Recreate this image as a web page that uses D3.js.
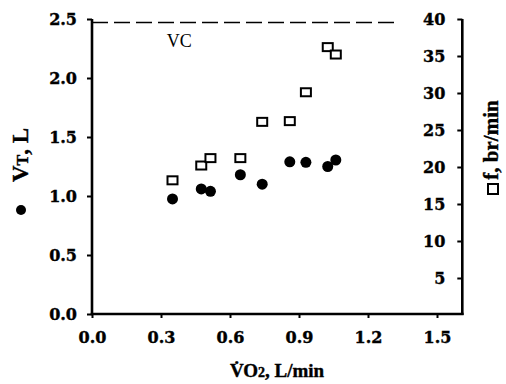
<!DOCTYPE html>
<html>
<head>
<meta charset="utf-8">
<script src="https://cdn.jsdelivr.net/npm/d3@7"></script>
<style>
html,body{margin:0;padding:0;background:#fff;}
svg{display:block;}
</style>
</head>
<body>
<svg id="chart" width="506" height="384"></svg>
<script>
// ---- data ----
const vo2 = [0.35, 0.475, 0.515, 0.645, 0.74, 0.86, 0.93, 1.025, 1.06];
const vt  = [0.975, 1.06, 1.04, 1.18, 1.10, 1.29, 1.285, 1.25, 1.305];
const freq = [18.2, 20.2, 21.2, 21.2, 26.1, 26.2, 30.1, 36.2, 35.2];
const vc = 2.47;
const xTicks = [0.0, 0.3, 0.6, 0.9, 1.2, 1.5];
const yLeftTicks = [0.0, 0.5, 1.0, 1.5, 2.0, 2.5];
const yRightTicks = [5, 10, 15, 20, 25, 30, 35, 40];

const svg = d3.select("#chart");
const x = d3.scaleLinear().domain([0, 1.5]).range([92, 437]);
const yL = d3.scaleLinear().domain([0, 2.5]).range([314, 19]);
const yR = d3.scaleLinear().domain([0, 40]).range([315, 19]);
const xMax = 1.61;

const tickFont = "'DejaVu Serif', serif";
const titleFont = "'Liberation Serif', 'Times New Roman', serif";

// left axis
const gL = svg.append("g").attr("transform", `translate(${x(0)},0)`)
  .call(d3.axisLeft(yL).tickValues(yLeftTicks).tickFormat(d3.format(".1f")).tickSize(5).tickPadding(10));
// right axis (ticks and labels inside)
const gR = svg.append("g").attr("transform", `translate(${x(xMax)},0)`)
  .call(d3.axisLeft(yR).tickValues(yRightTicks).tickFormat(d3.format("d")).tickSize(5).tickPadding(12));
// bottom axis
const gB = svg.append("g").attr("transform", `translate(0,${yL(0)})`)
  .call(d3.axisBottom(x).tickValues(xTicks).tickFormat(d3.format(".1f")).tickSize(4).tickPadding(14));

[gL, gR, gB].forEach(g => {
  g.select(".domain").remove();
  g.selectAll(".tick line").attr("stroke", "#000").attr("stroke-width", 2);
  g.selectAll(".tick text").attr("font-family", tickFont).attr("font-weight", "bold")
    .attr("font-size", 16).attr("fill", "#000").attr("stroke", "#000").attr("stroke-width", 0.4);
});

// axis lines
svg.append("line").attr("x1", x(0)).attr("x2", x(0)).attr("y1", yL(2.5)).attr("y2", yL(0))
  .attr("stroke", "#000").attr("stroke-width", 2.6);
svg.append("line").attr("x1", x(0) - 1.3).attr("x2", x(xMax) + 1.3).attr("y1", yL(0)).attr("y2", yL(0))
  .attr("stroke", "#000").attr("stroke-width", 2.6);
svg.append("line").attr("x1", x(xMax)).attr("x2", x(xMax)).attr("y1", yR(40)).attr("y2", yR(0))
  .attr("stroke", "#000").attr("stroke-width", 2.6);

// VC dashed line
svg.append("line").attr("x1", x(0)).attr("x2", x(1.33)).attr("y1", yL(vc)).attr("y2", yL(vc))
  .attr("stroke", "#000").attr("stroke-width", 1.6).attr("stroke-dasharray", "16,6");
svg.append("text").attr("x", x(0.325)).attr("y", yL(vc) + 24)
  .attr("font-family", titleFont).attr("font-size", 18).attr("fill", "#000").text("VC");

// data: VT circles
svg.append("g").selectAll("circle").data(vo2).join("circle")
  .attr("cx", (d) => x(d)).attr("cy", (d, i) => yL(vt[i])).attr("r", 5.5).attr("fill", "#000");
// data: f squares
svg.append("g").selectAll("rect").data(vo2).join("rect")
  .attr("x", d => x(d) - 5).attr("y", (d, i) => yR(freq[i]) - 4)
  .attr("width", 10).attr("height", 8).attr("fill", "#fff").attr("stroke", "#000").attr("stroke-width", 2);

// x title
const xt = svg.append("text").attr("x", 277).attr("y", 377).attr("text-anchor", "middle")
  .attr("font-family", titleFont).attr("font-weight", "bold").attr("font-size", 19).attr("fill", "#000")
  .attr("stroke", "#000").attr("stroke-width", 0.4);
xt.append("tspan").text("V\u0307O");
xt.append("tspan").attr("font-size", 14).text("2");
xt.append("tspan").text(", L/min");

// left title
svg.append("circle").attr("cx", 21).attr("cy", 210).attr("r", 5).attr("fill", "#000");
const lt = svg.append("text").attr("transform", "translate(28,155) rotate(-90)").attr("text-anchor", "middle")
  .attr("font-family", titleFont).attr("font-weight", "bold").attr("font-size", 23).attr("fill", "#000")
  .attr("stroke", "#000").attr("stroke-width", 0.4);
lt.append("tspan").text("V");
lt.append("tspan").attr("font-size", 16).text("T");
lt.append("tspan").text(", L");

// right title
svg.append("rect").attr("x", 488).attr("y", 184).attr("width", 10).attr("height", 10)
  .attr("fill", "#fff").attr("stroke", "#000").attr("stroke-width", 2);
svg.append("text").attr("transform", "translate(498,140) rotate(-90)").attr("text-anchor", "middle")
  .attr("font-family", titleFont).attr("font-weight", "bold").attr("font-size", 21).attr("fill", "#000")
  .attr("stroke", "#000").attr("stroke-width", 0.4)
  .text("f, br/min");
</script>
</body>
</html>
